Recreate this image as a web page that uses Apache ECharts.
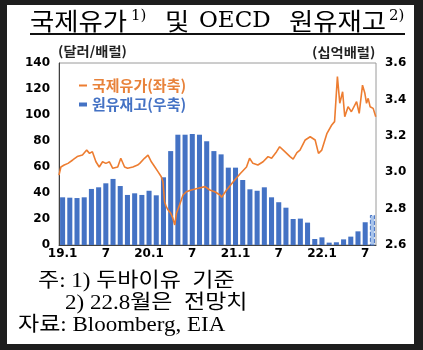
<!DOCTYPE html>
<html><head><meta charset="utf-8">
<script src="https://cdn.jsdelivr.net/npm/echarts@6/dist/echarts.min.js"></script>
<style>
html,body{margin:0;padding:0;background:#1e1e1e;width:423px;height:350px;overflow:hidden}
#paper{position:absolute;left:7px;top:5px;width:407px;height:339px;background:#fff}
#uline{position:absolute;left:30px;top:33px;width:375px;height:2px;background:#111}
#chart{position:absolute;left:0;top:0;width:423px;height:350px}
</style></head><body>
<div id="paper"></div><div id="uline"></div><div id="chart"></div>
<script>
const months = ['19.1','19.2','19.3','19.4','19.5','19.6','19.7','19.8','19.9','19.10','19.11','19.12',
  '20.1','20.2','20.3','20.4','20.5','20.6','20.7','20.8','20.9','20.10','20.11','20.12',
  '21.1','21.2','21.3','21.4','21.5','21.6','21.7','21.8','21.9','21.10','21.11','21.12',
  '22.1','22.2','22.3','22.4','22.5','22.6','22.7','22.8'];
const tickLabels = ['19.1','7','20.1','7','21.1','7','22.1','7'];
const inventory = [2.862,2.860,2.858,2.862,2.908,2.917,2.939,2.963,2.924,2.875,2.884,2.875,
  2.898,2.873,2.972,3.116,3.206,3.206,3.210,3.206,3.170,3.116,3.098,3.025,
  3.025,2.957,2.906,2.898,2.917,2.862,2.835,2.805,2.743,2.745,2.723,2.633,
  2.642,2.613,2.615,2.631,2.646,2.675,2.725,2.765];
const priceDates = ['2019-01-01','2019-01-09','2019-01-23','2019-02-08','2019-02-28','2019-03-19','2019-04-10','2019-04-28','2019-05-10','2019-05-22','2019-06-06','2019-06-20','2019-07-04','2019-07-18','2019-08-02','2019-08-16','2019-09-06','2019-09-19','2019-10-05','2019-10-18','2019-11-09','2019-11-29','2019-12-08','2019-12-28',
  '2020-01-12','2020-01-26','2020-02-10','2020-02-23','2020-03-08','2020-03-15','2020-03-22','2020-03-29','2020-04-06','2020-04-17','2020-04-26','2020-05-04','2020-05-11','2020-05-24','2020-06-08','2020-06-22','2020-07-13','2020-08-11','2020-09-09','2020-09-29','2020-10-20','2020-11-11','2020-11-18','2020-12-09',
  '2021-01-06','2021-02-05','2021-03-03','2021-03-16','2021-03-30','2021-04-20','2021-05-12','2021-06-02','2021-06-17','2021-07-08','2021-07-21','2021-08-12','2021-09-03','2021-09-16','2021-10-02','2021-10-15','2021-11-06','2021-11-27','2021-12-18',
  '2022-01-01','2022-01-15','2022-02-06','2022-02-26','2022-03-10','2022-03-22','2022-04-01','2022-04-13','2022-04-22','2022-05-06','2022-05-20','2022-06-11','2022-06-22','2022-07-06','2022-07-16','2022-07-23','2022-07-30','2022-08-07','2022-08-20','2022-08-31'];
const priceValues = [53.8,60,61.5,62.8,65.4,68,69.2,73,70.5,71.8,64,60,64,62.8,64,59,60,66.7,60,59,60,61.5,62.8,66.7,
  69.2,64,60,56.4,52.5,48.7,33.3,29.5,26.9,24.4,20.5,15.4,24.4,30.8,38.5,41,42.3,43.6,44.9,42.3,41,38.5,36.7,42.3,
  48.7,55,60,66.7,62.8,61.5,64,68,66.7,71.8,75.6,71.8,68,66,71,73,80.8,83.3,80.8,
  70.5,73,85.9,92.3,94.9,129.5,109,117.9,98.7,106.4,102.5,110.2,101.3,123,116.7,109,112.8,106.4,105.1,98.7];

const ORANGE = '#ED7D31', BLUE = '#4472C4';
const numFont = 'DejaVu Sans';
const krFont = 'Noto Sans CJK KR';
const serif = 'Liberation Serif, Noto Sans CJK KR';
const titleLatin = 'DejaVu Serif, Noto Sans CJK KR';

const chart = echarts.init(document.getElementById('chart'), null, {renderer:'canvas'});
const lastIdx = inventory.length - 1;
chart.setOption({
  animation: false,
  backgroundColor: 'transparent',
  grid: {left:59, right:47, top:63, bottom:105, show:true, borderColor:'#9a9a9a', borderWidth:1},
  legend: [
    {data:[{name:'국제유가(좌축)', icon:'rect'}], left:74, top:73, itemWidth:8, itemHeight:2, selectedMode:false,
     textStyle:{color:'#E8823A', fontWeight:'bold', fontSize:15, fontFamily:krFont}},
    {data:[{name:'원유재고(우축)', icon:'rect'}], left:74, top:92, itemWidth:8, itemHeight:4, selectedMode:false,
     textStyle:{color:BLUE, fontWeight:'bold', fontSize:15, fontFamily:krFont}}
  ],
  xAxis: [
    {type:'category', data:months, gridIndex:0,
     axisLine:{lineStyle:{color:'#404040'}}, axisTick:{show:false},
     axisLabel:{interval:5, formatter:(v,i)=>tickLabels[Math.round(i/6)], color:'#000', fontWeight:'bold', fontSize:12, fontFamily:numFont, margin:3}},
    {type:'time', show:false, min:'2019-01-01', max:'2022-09-01', gridIndex:0}
  ],
  yAxis: [
    {type:'value', min:0, max:140, interval:20, position:'left',
     axisLine:{show:true, lineStyle:{color:'#404040'}}, axisTick:{show:false}, splitLine:{show:false},
     axisLabel:{color:'#000', fontWeight:'bold', fontSize:12, fontFamily:numFont, margin:9}},
    {type:'value', min:2.6, max:3.6, interval:0.2, position:'right',
     axisLine:{show:false}, axisTick:{show:false}, splitLine:{show:false},
     axisLabel:{formatter:v=>v.toFixed(1), color:'#000', fontWeight:'bold', fontSize:12, fontFamily:numFont, margin:9}}
  ],
  series: [
    {name:'원유재고(우축)', type:'bar', xAxisIndex:0, yAxisIndex:1, barCategoryGap:'30%',
     itemStyle:{color:BLUE},
     data: inventory.map((v,i)=> i===lastIdx ? {value:v, itemStyle:{color:'#A9C4EB', borderColor:BLUE, borderWidth:1, borderType:'dashed'}} : v)},
    {name:'국제유가(좌축)', type:'line', xAxisIndex:1, yAxisIndex:0, z:5, symbol:'none',
     lineStyle:{color:ORANGE, width:1.6}, itemStyle:{color:ORANGE},
     data: priceDates.map((d,i)=>[d, priceValues[i]])}
  ],
  graphic: {elements: [
    {type:'polyline', z:100, shape:{points:[[30,34],[405,34]]}, style:{stroke:'#111', lineWidth:2, fill:null}},
    {type:'text', left:30, top:9, scaleX:1.1, style:{text:'국제유가', fontSize:24, fontFamily:krFont, fill:'#000'}},
    {type:'text', left:131, top:9, style:{text:'1)', fontSize:15, fontFamily:titleLatin, fill:'#000'}},
    {type:'text', left:165, top:9, scaleX:1.1, style:{text:'및', fontSize:24, fontFamily:krFont, fill:'#000'}},
    {type:'text', left:199, top:10, style:{text:'OECD', fontSize:23, fontFamily:titleLatin, fill:'#000'}},
    {type:'text', left:289, top:9, scaleX:1.1, style:{text:'원유재고', fontSize:24, fontFamily:krFont, fill:'#000'}},
    {type:'text', left:389, top:9, style:{text:'2)', fontSize:15, fontFamily:titleLatin, fill:'#000'}},
    {type:'text', left:58, top:45, scaleX:1.1, style:{text:'(달러/배럴)', font:'bold 13px "Noto Sans CJK KR"', fill:'#222'}},
    {type:'text', left:312, top:46, scaleX:1.1, style:{text:'(십억배럴)', font:'bold 13px "Noto Sans CJK KR"', fill:'#222'}},
    {type:'text', left:38, top:272, scaleX:1.15, style:{text:'주: 1) 두바이유  기준', fontSize:20, fontFamily:serif, fill:'#000'}},
    {type:'text', left:65, top:294, scaleX:1.15, style:{text:'2) 22.8월은  전망치', fontSize:20, fontFamily:serif, fill:'#000'}},
    {type:'text', left:18, top:316, scaleX:1.15, style:{text:'자료: Bloomberg, EIA', fontSize:20, fontFamily:serif, fill:'#000'}}
  ]}
});
</script>
</body></html>
